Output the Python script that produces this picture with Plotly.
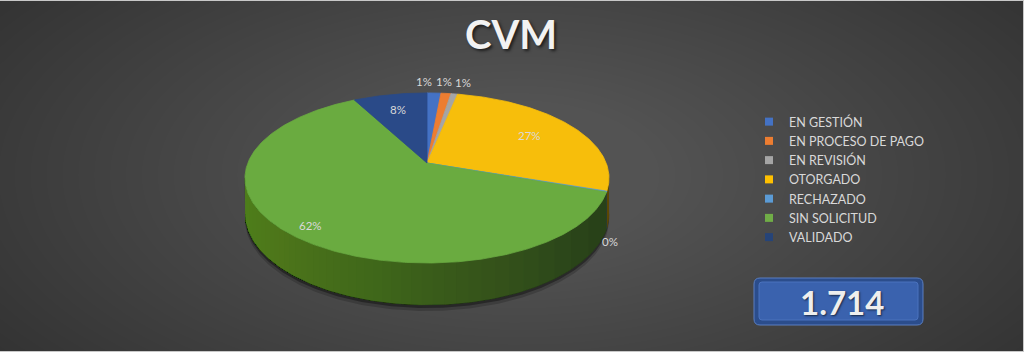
import numpy as np
import plotly.graph_objects as go

# ---------------- data ----------------
categories = ["EN GESTIÓN", "EN PROCESO DE PAGO", "EN REVISIÓN", "OTORGADO",
              "RECHAZADO", "SIN SOLICITUD", "VALIDADO"]
counts = [25, 18, 12, 463, 3, 1060, 133]
title_text = "CVM"

# ---------------- style ----------------
top_colors = ["#4472c4", "#ed7d31", "#a5a5a5", "#f7be0b", "#5b9bd5", "#6aab40", "#2a4a88"]
legend_colors = ["#4472c4", "#ed7d31", "#a5a5a5", "#ffc000", "#5b9bd5", "#70ad47", "#264478"]
label_r = [1.2, 1.2, 1.2, 0.7, 1.0, 0.88, 0.75]
label_dx = [-11, -5, 4, 0, 3, 0, 0]
label_dy = [0, 0, 0, 0, 50, 0, 0]
FONT = "Lato"
TXT = "#d9d9d9"

# pie projection geometry (pixels)
CX, CY, A, B, K, DEPTH = 427.0, 163.0, 179.2, 82.4, 0.176, 34.6
F_LEFT, F_RIGHT, F_LIGHT, ALPHA = 0.84, 0.38, 0.95, 0.04


def proj(theta_deg, r=1.0, bottom=False):
    t = np.radians(np.asarray(theta_deg, dtype=float))
    u = r * np.sin(t)
    v = r * np.cos(t)
    w = 1 + K * v
    sx = CX + A * u / w
    sy = CY - B * v / w
    if bottom:
        sy = sy + DEPTH / w
    return sx, sy


def hex_to_rgb(h):
    h = h.lstrip("#")
    return tuple(int(h[i:i + 2], 16) for i in (0, 2, 4))


def shade(h, f):
    r, g, b = hex_to_rgb(h)
    return "rgb(%d,%d,%d)" % (min(255, int(r * f)), min(255, int(g * f)), min(255, int(b * f)))


def side_poly(t0, t1):
    seg = np.linspace(t0, t1, max(3, int(abs(t1 - t0) / 0.5) + 2))
    tx, ty = proj(seg)
    bx, by = proj(seg[::-1], bottom=True)
    return np.concatenate([tx, bx]), np.concatenate([ty, by])


total = sum(counts)
fracs = [c / total for c in counts]
starts = list(np.cumsum([0] + fracs[:-1]) * 360)
ends = list(np.cumsum(fracs) * 360)

fig = go.Figure()

# ---- shadow below the pie ----
th_all = np.linspace(90, 270, 200)
for off, op in [(6, 0.18), (3, 0.35)]:
    bx, by = proj(th_all, bottom=True)
    tx, ty = proj(th_all[::-1])
    fig.add_trace(go.Scatter(x=np.concatenate([bx, tx]), y=np.concatenate([by + off, ty]),
                             fill="toself", mode="lines",
                             line=dict(width=0), fillcolor="rgba(0,0,0,%g)" % op,
                             hoverinfo="skip", showlegend=False))

# ---- side walls (front visible part) with smooth horizontal shading ----
thL = np.degrees(np.arccos(-K))
thR = 360 - thL
xr_end, _ = proj(thL)   # right-most point
xl_end, _ = proj(thR)   # left-most point
grid = np.linspace(thL, thR, 2000)
gx, _ = proj(grid)


def f_of_theta(t):
    x, _ = proj(t)
    s = (x - xl_end) / (xr_end - xl_end)   # 0 left, 1 right
    return F_LEFT - (F_LEFT - F_RIGHT) * s


for i, c in enumerate(counts):
    a0, a1 = max(starts[i], thL), min(ends[i], thR)
    if a1 <= a0:
        continue
    d_i = f_of_theta(a0)          # shade at right end of this wall piece
    f_left_i = f_of_theta(a1)     # shade at left end
    px, py = side_poly(a0, a1)
    base = shade(top_colors[i], d_i)
    fig.add_trace(go.Scatter(x=px, y=py, fill="toself", mode="lines", fillcolor=base,
                             line=dict(width=0.6, color=base),
                             hoverinfo="skip", showlegend=False))
    # overlay layers building up lighter shade towards the left
    sub = grid[(grid >= a0) & (grid <= a1)]
    fsub = np.array([f_of_theta(t) for t in sub])
    j = 1
    while True:
        fj = F_LIGHT - (F_LIGHT - d_i) * (1 - ALPHA) ** j
        if fj >= f_left_i or len(sub) < 2:
            break
        tj = float(np.interp(fj, fsub, sub))
        ox, oy = side_poly(tj, a1)
        fig.add_trace(go.Scatter(x=ox, y=oy, fill="toself", mode="lines",
                                 fillcolor=shade(top_colors[i], F_LIGHT), opacity=ALPHA,
                                 line=dict(width=0),
                                 hoverinfo="skip", showlegend=False))
        j += 1

# ---- top faces ----
for i, c in enumerate(counts):
    n = max(3, int(np.ceil((ends[i] - starts[i]) / 0.5)))
    seg = np.linspace(starts[i], ends[i], n)
    tx, ty = proj(seg)
    xs = np.concatenate([[CX], tx, [CX]])
    ys = np.concatenate([[CY], ty, [CY]])
    fig.add_trace(go.Scatter(x=xs, y=ys, fill="toself", mode="lines",
                             fillcolor=top_colors[i], line=dict(width=0.8, color=top_colors[i]),
                             hoverinfo="skip", showlegend=False))

# ---- legend entries ----
for i, cat in enumerate(categories):
    fig.add_trace(go.Scatter(x=[None], y=[None], mode="markers", name=cat,
                             marker=dict(symbol="square", size=8, color=legend_colors[i]),
                             showlegend=True))

# ---- percentage labels ----
annotations = []
for i, c in enumerate(counts):
    mid = (starts[i] + ends[i]) / 2
    lx, ly = proj(mid, r=label_r[i])
    annotations.append(dict(x=float(lx), y=float(ly), xref="x", yref="y",
                            text="%d%%" % round(100 * c / total), showarrow=False,
                            xshift=label_dx[i], yshift=-label_dy[i],
                            font=dict(family=FONT, size=11.5, color=TXT)))

# title
annotations.append(dict(x=511, y=34, xref="x", yref="y", text="<b>%s</b>" % title_text,
                        showarrow=False,
                        font=dict(family=FONT, size=40, color="#f2f2f2",
                                  shadow="2px 2px 3px rgba(0,0,0,0.6)")))

# total box
total_txt = "{:,}".format(total).replace(",", ".")
annotations.append(dict(x=842, y=302, xref="x", yref="y", text="<b>%s</b>" % total_txt,
                        showarrow=False,
                        font=dict(family=FONT, size=33, color="#eeeeee",
                                  shadow="1px 1px 2px rgba(0,0,0,0.6)")))


def rrect(x0, y0, x1, y1, r):
    return ("M %g,%g L %g,%g Q %g,%g %g,%g L %g,%g Q %g,%g %g,%g L %g,%g Q %g,%g %g,%g "
            "L %g,%g Q %g,%g %g,%g Z" % (
                x0 + r, y0, x1 - r, y0, x1, y0, x1, y0 + r,
                x1, y1 - r, x1, y1, x1 - r, y1,
                x0 + r, y1, x0, y1, x0, y1 - r,
                x0, y0 + r, x0, y0, x0 + r, y0))


shapes = []
# background radial gradient
NB = 40
for j in range(NB):
    t = j / (NB - 1)
    rx = 760 - 620 * t
    ry = 360 - 285 * t
    ecx, ecy = 520, 175
    shapes.append(dict(type="circle", xref="x", yref="y", layer="below",
                       x0=ecx - rx, x1=ecx + rx, y0=ecy - ry, y1=ecy + ry,
                       fillcolor="rgba(255,255,255,0.0066)", line=dict(width=0)))
shapes.append(dict(type="path", xref="x", yref="y", path=rrect(754, 278, 923, 325, 6),
                   fillcolor="#2b4d8c", line=dict(color="#5a7fc2", width=1)))
shapes.append(dict(type="path", xref="x", yref="y", path=rrect(759, 282, 918, 320, 3),
                   fillcolor="#3a62ae", line=dict(color="#4a72bd", width=1)))
# thin frame lines
shapes.append(dict(type="line", xref="paper", yref="paper", x0=0, x1=1, y0=1, y1=1,
                   line=dict(color="#c8c8c8", width=2)))
shapes.append(dict(type="line", xref="paper", yref="paper", x0=0, x1=1, y0=0, y1=0,
                   line=dict(color="#c8c8c8", width=2)))
shapes.append(dict(type="line", xref="paper", yref="paper", x0=1, x1=1, y0=0, y1=1,
                   line=dict(color="#c8c8c8", width=2)))

fig.update_layout(
    width=1024, height=352, autosize=False,
    margin=dict(l=0, r=0, t=0, b=0),
    paper_bgcolor="#2b2b2b", plot_bgcolor="rgba(0,0,0,0)",
    xaxis=dict(range=[0, 1024], visible=False, fixedrange=True),
    yaxis=dict(range=[352, 0], visible=False, fixedrange=True),
    showlegend=True,
    legend=dict(x=749 / 1024, y=1 - 107 / 352, xanchor="left", yanchor="top",
                bgcolor="rgba(0,0,0,0)", font=dict(family=FONT, size=12.5, color=TXT),
                itemwidth=30, itemsizing="trace", tracegroupgap=0),
    annotations=annotations,
    shapes=shapes,
    hovermode=False,
)

fig.write_html("out.html")
